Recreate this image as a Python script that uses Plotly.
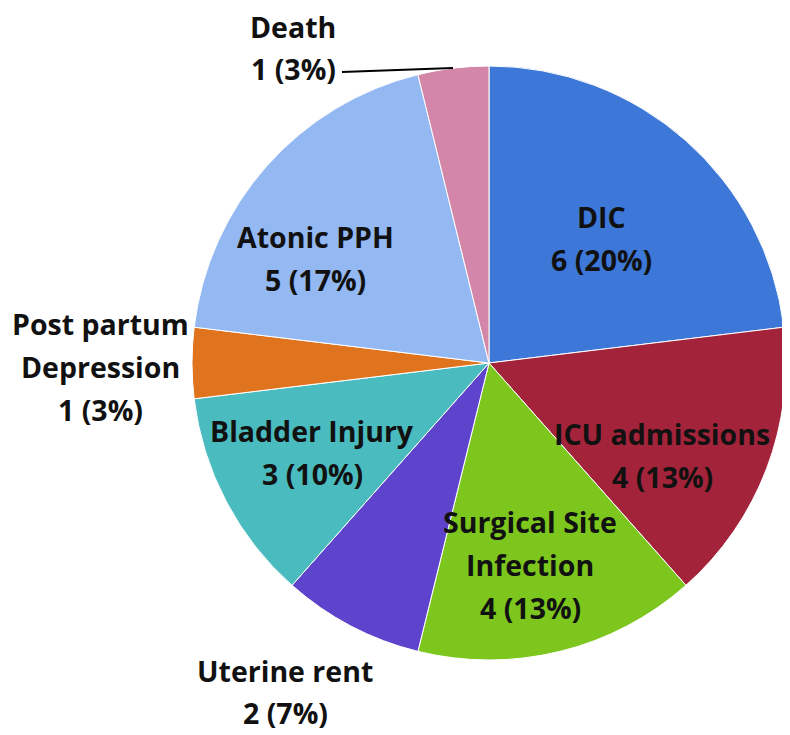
import plotly.graph_objects as go

# complication counts (slices are drawn clockwise from 12 o'clock)
categories = ["DIC", "ICU admissions", "Surgical Site Infection", "Uterine rent",
              "Bladder Injury", "Post partum Depression", "Atonic PPH", "Death"]
counts = [6, 4, 4, 2, 3, 1, 5, 1]
percents = [20, 13, 13, 7, 10, 3, 17, 3]
name_lines = [["DIC"], ["ICU admissions"], ["Surgical Site", "Infection"],
              ["Uterine rent"], ["Bladder Injury"], ["Post partum", "Depression"],
              ["Atonic PPH"], ["Death"]]
colors = ["#3D78D8", "#A3243A", "#7CC61E", "#5E44CD",
          "#4ABBBE", "#DF731E", "#93B8F2", "#D386A7"]

# label block centres in page pixels (x, y from top) -- layout only
label_px = [(601, 238), (662, 455), (530, 565), (285, 692),
            (312, 452), (100, 367), (315, 258), (293, 48)]

OFF = 8  # body margin of the html page
W, H = 782, 727
L, T = 192 - OFF, 66 - OFF
PW = PH = 594
R, B = W - L - PW, H - T - PH
LINE_GAP = 43


def to_paper(px, py):
    return (px - OFF - L) / PW, (T + PH - (py - OFF)) / PH


fig = go.Figure(go.Pie(
    labels=categories, values=counts, sort=False, direction="clockwise",
    rotation=0, marker={"colors": colors, "line": {"color": "white", "width": 1}},
    textinfo="none", hoverinfo="label+value", showlegend=False))

annotations = []
for lines, n, pct, (cx, cy) in zip(name_lines, counts, percents, label_px):
    rows = lines + [f"{n} ({pct}%)"]
    for i, row in enumerate(rows):
        py = cy + (i - (len(rows) - 1) / 2) * LINE_GAP
        x, y = to_paper(cx, py)
        annotations.append(dict(
            x=x, y=y, xref="paper", yref="paper", text=f"<b>{row}</b>",
            showarrow=False, xanchor="center", yanchor="middle",
            font={"family": "Open Sans", "size": 28.5, "color": "#111111"}))

x0, y0 = to_paper(342, 72)
x1, y1 = to_paper(453, 68)
fig.add_shape(type="line", xref="paper", yref="paper", x0=x0, y0=y0, x1=x1, y1=y1,
              line={"color": "black", "width": 2})

fig.update_layout(width=W, height=H, margin={"l": L, "r": R, "t": T, "b": B},
                  paper_bgcolor="white", plot_bgcolor="white",
                  annotations=annotations)
fig.write_html("out.html")
